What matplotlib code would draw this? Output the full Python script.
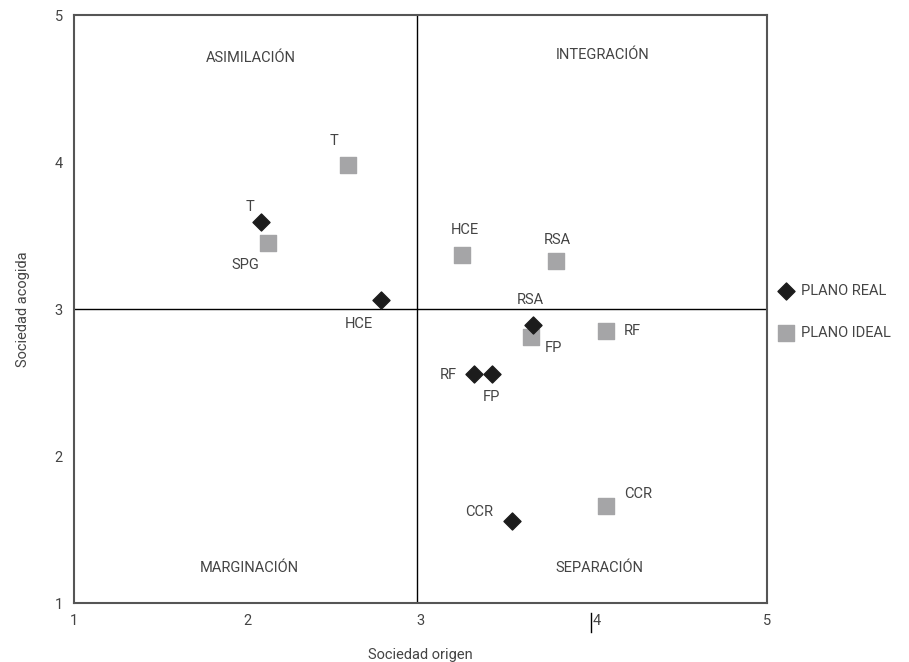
import matplotlib.pyplot as plt

plt.rcParams['font.family'] = ['Roboto', 'DejaVu Sans']

# Plano real (rombos)
real_labels = ['T', 'HCE', 'RSA', 'RF', 'FP', 'CCR']
real_x = [2.08, 2.77, 3.65, 3.31, 3.41, 3.53]
real_y = [3.59, 3.06, 2.89, 2.56, 2.56, 1.56]

# Plano ideal (cuadrados)
ideal_labels = ['T', 'SPG', 'HCE', 'RSA', 'RF', 'FP', 'CCR']
ideal_x = [2.58, 2.12, 3.24, 3.78, 4.07, 3.64, 4.07]
ideal_y = [3.98, 3.45, 3.37, 3.33, 2.85, 2.81, 1.66]

# desplazamiento de etiquetas (en puntos)
real_off = [(-8, 11), (-16, -17), (-2, 18), (-19, -1), (0, -17), (-24, 6)]
ideal_off = [(-10, 17), (-16, -16), (2, 18), (1, 15), (19, 0), (16, -8), (23, 9)]

quad_names = ['ASIMILACIÓN', 'INTEGRACIÓN', 'MARGINACIÓN', 'SEPARACIÓN']
quad_x = [2.02, 4.05, 2.01, 4.03]
quad_y = [4.71, 4.73, 1.24, 1.24]

txt = '#444444'
fs = 10.5

fig = plt.figure(figsize=(9.09, 6.62), dpi=100)
ax = fig.add_axes([0.0814, 0.0891, 0.7624, 0.888])

ax.axvline(2.98, color='black', lw=1, zorder=1)
ax.axhline(3, color='black', lw=1, zorder=1)

ax.scatter(ideal_x, ideal_y, marker='s', s=120, color='#a5a5a7', zorder=2, label='PLANO IDEAL')
ax.scatter(real_x, real_y, marker='D', s=75, color='#1c1c1c', zorder=3, label='PLANO REAL')

for lab, x, y, off in zip(real_labels, real_x, real_y, real_off):
    ax.annotate(lab, (x, y), xytext=off, textcoords='offset points',
                ha='center', va='center', fontsize=fs, color=txt)
for lab, x, y, off in zip(ideal_labels, ideal_x, ideal_y, ideal_off):
    ax.annotate(lab, (x, y), xytext=off, textcoords='offset points',
                ha='center', va='center', fontsize=fs, color=txt)

for name, x, y in zip(quad_names, quad_x, quad_y):
    ax.text(x, y, name, ha='center', va='center', fontsize=fs, color=txt)

ax.set_xlim(1, 5)
ax.set_ylim(1, 5)
ax.set_xticks([1, 2, 3, 4.02, 5], ['1', '2', '3', '4', '5'])
ax.set_yticks([1, 2, 3, 4, 5])
ax.tick_params(length=0, labelsize=fs, labelcolor=txt, pad=8)
for s in ax.spines.values():
    s.set_color('#555555')
    s.set_linewidth(1.5)

ax.set_xlabel('Sociedad origen', fontsize=fs, color=txt, labelpad=14)
ax.set_ylabel('Sociedad acogida', fontsize=fs, color=txt, labelpad=18)

# pequeña marca junto al 4 del eje x
ax.plot([3.985, 3.985], [0.80, 0.93], color='black', lw=1, clip_on=False)

handles, labels = ax.get_legend_handles_labels()
ax.legend(handles[::-1], labels[::-1], loc='center left', bbox_to_anchor=(1.0, 0.495),
          frameon=False, fontsize=fs, labelcolor=txt, handlelength=1.0,
          handletextpad=0.5, labelspacing=1.9, borderaxespad=0.4)

plt.savefig('out.png', dpi=100)
